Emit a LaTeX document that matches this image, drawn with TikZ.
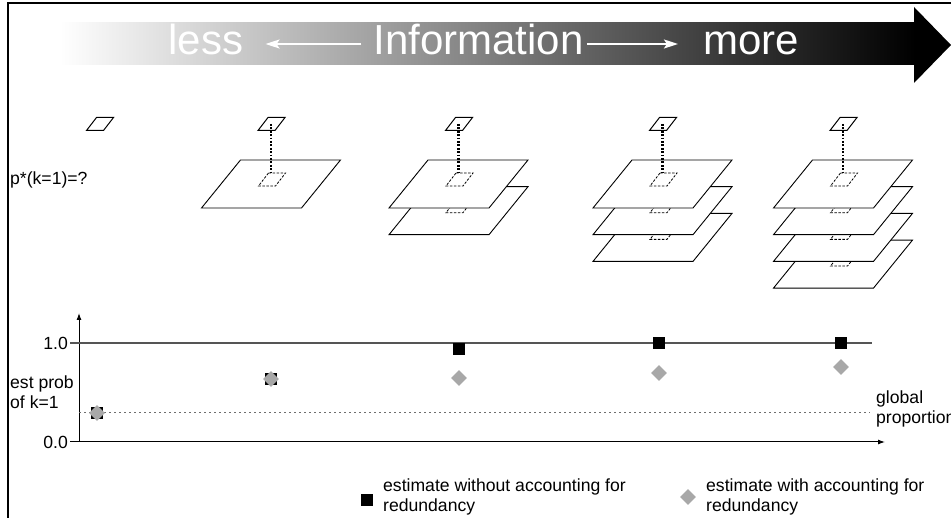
\documentclass[tikz,border=0pt]{standalone}
\usepackage{fontspec}
\setmainfont{Liberation Sans}
\usetikzlibrary{arrows.meta,shapes.geometric}

\definecolor{axisgrey}{RGB}{85,85,85}
\definecolor{dotgrey}{RGB}{110,110,110}
\definecolor{estgrey}{RGB}{168,168,168}

\tikzset{
  frameline/.style={line width=2.8pt},
  bigword/.style={text=white, font=\fontsize{42}{42}\selectfont, inner sep=0pt,
                  text height=30pt, text depth=8pt, anchor=base},
  whitearrow/.style={draw=white, line width=2pt,
                     -{Stealth[length=14pt,width=9pt,inset=3pt]}},
  plane/.style={draw=black, fill=white, line width=0.9pt},
  cell/.style={draw=black, line width=1pt},
  hole/.style={draw=black, line width=0.8pt, dash pattern=on 2.5pt off 1.5pt},
  link/.style={line width=2.2pt, dash pattern=on 1.8pt off 1.6pt},
  lbl/.style={font=\fontsize{17.6}{20}\selectfont, inner sep=0pt, align=left},
  est/.style={rectangle, fill=black, minimum size=12pt, inner sep=0pt},
  estr/.style={diamond, fill=estgrey, minimum size=16pt, inner sep=0pt},
  cellpic/.pic={\draw[pic actions] (-3.5,-6.5) -- (13.5,-6.5) -- (3.5,6.5) -- (-13.5,6.5) -- cycle;},
  planepic/.pic={\draw[pic actions] (-69.5,24) -- (30.5,24) -- (69.5,-24) -- (-30.5,-24) -- cycle;}
}

\begin{document}
\begin{tikzpicture}[x=1pt,y=-1pt]
\useasboundingbox (0,0) rectangle (951,518);
\clip (0,0) rectangle (951,518);

% frame (left and top edges)
\draw[frameline] (8,518) -- (8,3) -- (951,3);

% shaded "Information" arrow
\shade[left color=white, right color=black] (60,23) rectangle (915,65);
\fill[black] (914,7) -- (951,45) -- (914,83) -- cycle;
\node[bigword] (less) at (206,55) {less};
\node[bigword] (info) at (478.5,55) {Information};
\node[bigword] (more) at (751,55) {more};
\draw[whitearrow, shorten <=12pt, shorten >=22pt] (info.west) -- (less.east);
\draw[whitearrow, shorten <=3pt, shorten >=25pt] (info.east) -- (more.west);

% question label
\node[lbl, anchor=west] (question) at (10,180) {p*(k=1)=?};

% single cell with no layers
\coordinate (src1) at (100,124);
\pic[cell] at (src1) {cellpic};

% cell over stacks of layers
\foreach \cx/\n [count=\c from 2] in {271/1, 458.5/2, 662.5/3, 843/4} {
  \foreach \k in {\n,...,1} {
    \pgfmathsetmacro\yc{184+(\k-1)*26.7}
    \pic[plane] at (\cx,\yc) {planepic};
    \pic[hole] at (\cx+1,\yc-4.5) {cellpic};
  }
  \coordinate (src\c) at (\cx,124);
  \coordinate (dst\c) at (\cx,173);
  \draw[link] (src\c) -- (dst\c);
  \pic[cell] at (\cx+0.5,124) {cellpic};
}

% chart axes and reference lines
\coordinate (origin) at (79,442);
\coordinate (ytop) at (79,313);
\coordinate (xend) at (885,442);
\draw[line width=1pt, -{Latex[length=7pt,width=5pt]}] (origin) -- (ytop);
\draw[line width=1pt, -{Latex[length=7pt,width=5pt]}] (70,442) -- (xend);
\draw[axisgrey, line width=1.2pt] (70,343) -- (872,343);
\draw[dotgrey, line width=1pt, dash pattern=on 1.5pt off 3.5pt] (79,413) -- (870,413);

\node[lbl, anchor=east] (one) at (68,343) {1.0};
\node[lbl, anchor=east] (zero) at (68,442) {0.0};
\node[lbl, anchor=west] (ylab) at (10,392) {est prob\\of k=1};
\node[lbl, anchor=west] (glob) at (876,409) {global\\proportion};

% estimates without accounting for redundancy
\node[est] (a1) at (97,413) {};
\node[est] (a2) at (271,379) {};
\node[est] (a3) at (459,349) {};
\node[est] (a4) at (659,343) {};
\node[est] (a5) at (841,343) {};
% estimates with accounting for redundancy
\node[estr] (b1) at (97,413) {};
\node[estr] (b2) at (271,379) {};
\node[estr] (b3) at (459,378) {};
\node[estr] (b4) at (659,373) {};
\node[estr] (b5) at (841,367) {};

% legend
\node[est] (keya) at (367,500) {};
\node[lbl, anchor=west] (texta) at (383,497) {estimate without accounting for\\redundancy};
\node[estr] (keyb) at (688,497) {};
\node[lbl, anchor=west] (textb) at (706,497) {estimate with accounting for\\redundancy};
\end{tikzpicture}
\end{document}
